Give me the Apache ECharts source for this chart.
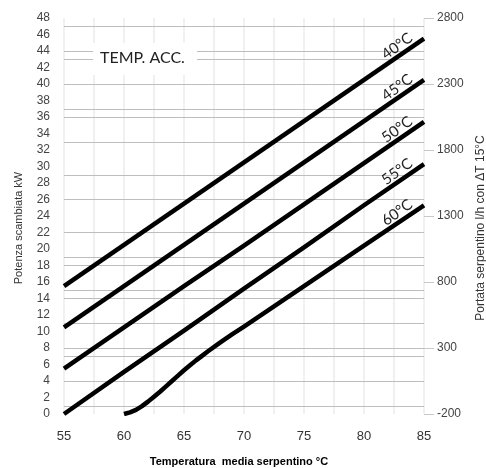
<!DOCTYPE html>
<html>
<head>
<meta charset="utf-8">
<script src="https://cdn.jsdelivr.net/npm/echarts@6/dist/echarts.min.js"></script>
<style>html,body{margin:0;padding:0;background:#fff}#c{width:486px;height:468px}</style>
</head>
<body>
<div id="c"></div>
<script>
// Data
const seriesNames = ['40°C', '45°C', '50°C', '55°C', '60°C'];
const line40 = [[55,15.5],[60,20.5],[65,25.5],[70,30.5],[75,35.5],[80,40.5],[85,45.5]];
const line45 = [[55,10.5],[60,15.5],[65,20.5],[70,25.5],[75,30.5],[80,35.5],[85,40.5]];
const line50 = [[55,5.5],[60,10.5],[65,15.5],[70,20.4],[75,25.4],[80,30.4],[85,35.4]];
const line55 = [[55,0],[60,5.1],[65,10.1],[70,15.2],[75,20.2],[80,25.3],[85,30.3]];
const line60 = [[60,0],[60.5,0.2],[61,0.5],[61.5,0.95],[62,1.5],[62.5,2.1],[63,2.7],[63.5,3.35],[64,4.0],[64.5,4.65],[65,5.3],[65.5,5.9],[66,6.5],[66.5,7.05],[67,7.6],[68,8.65],[69,9.65],[70,10.6],[75,15.5],[80,20.4],[85,25.3]];
const labelX = 83.2;
const leftTicks = [0,2,4,6,8,10,12,14,16,18,20,22,24,26,28,30,32,34,36,38,40,42,44,46,48];
const rightTicks = [-200,300,800,1300,1800,2300,2800];
const xTicks = [55,60,65,70,75,80,85];
const gridValues = [47,44,43,40,37,36,33,29,26,22,19,18,15,14,11,8,7,4,1];

const lines = [line40, line45, line50, line55, line60];

function valueAt(data, x) {
  for (let i = 0; i < data.length - 1; i++) {
    const a = data[i], b = data[i+1];
    if (x >= a[0] && x <= b[0]) return a[1] + (b[1]-a[1]) * (x-a[0]) / (b[0]-a[0]);
  }
  return data[data.length-1][1];
}

const chart = echarts.init(document.getElementById('c'));
const series = lines.map((d, i) => ({
  type: 'line',
  name: seriesNames[i],
  data: d,
  yAxisIndex: 0,
  showSymbol: false,
  smooth: false,
  lineStyle: { color: '#000', width: 4.5, join: 'round' },
  silent: true,
  z: 5,
  markPoint: {
    symbol: 'circle', symbolSize: 0, silent: true,
    data: [{ coord: [labelX, valueAt(d, labelX)] }],
    label: {
      show: true, formatter: seriesNames[i], position: 'inside',
      rotate: 36, offset: [0, -9],
      color: '#222', fontSize: 15, fontFamily: 'Lato'
    }
  }
}));
series.push({
  type: 'line', data: [], yAxisIndex: 0, silent: true, z: 1,
  markLine: {
    silent: true, symbol: 'none', animation: false,
    label: { show: false },
    lineStyle: { color: '#bdbdbd', width: 1, type: 'solid' },
    data: gridValues.map(v => ({ yAxis: v }))
  }
});

chart.setOption({
  animation: false,
  grid: { left: 64, right: 62, top: 18, bottom: 54, containLabel: false, outerBoundsMode: 'none' },
  xAxis: {
    type: 'value', min: 55, max: 85, interval: 5,
    axisLine: { show: false }, axisTick: { show: false },
    axisLabel: { customValues: xTicks, color: '#333', fontSize: 13, fontFamily: 'Liberation Sans', margin: 16 },
    splitLine: { show: true, lineStyle: { color: '#ececec', width: 1.5 } },
    minorTick: { show: false, splitNumber: 2 },
    minorSplitLine: { show: true, lineStyle: { color: '#ececec', width: 1.5 } },
    name: 'Temperatura  media serpentino °C', nameLocation: 'middle', nameGap: 42,
    nameTextStyle: { color: '#000', fontSize: 11, fontWeight: 'bold', fontFamily: 'Liberation Sans', padding: [0, 10, 0, 0] }
  },
  yAxis: [{
    type: 'value', min: 0, max: 48, interval: 2,
    axisLine: { show: false }, axisTick: { show: false },
    axisLabel: { customValues: leftTicks, color: '#444', fontSize: 12, fontFamily: 'Liberation Sans', margin: 14 },
    splitLine: { show: false },
    name: 'Potenza scambiata kW', nameLocation: 'middle', nameGap: 40,
    nameTextStyle: { color: '#333', fontSize: 11, fontFamily: 'Liberation Sans', padding: [0, 24, 0, 0] }
  }, {
    type: 'value', min: -200, max: 2800, position: 'right',
    axisLine: { show: false },
    axisTick: { show: true, customValues: rightTicks, length: 10, lineStyle: { color: '#c8c8c8' } },
    axisLabel: { customValues: rightTicks, formatter: v => String(v), color: '#444', fontSize: 12, fontFamily: 'Liberation Sans', margin: 13 },
    splitLine: { show: false },
    name: 'Portata serpentino l/h con ΔT 15°C', nameLocation: 'middle', nameGap: 40,
    nameTextStyle: { color: '#333', fontSize: 12, fontFamily: 'Liberation Sans', padding: [0, 24, 0, 0] }
  }],
  graphic: [{
    type: 'rect', left: 93, top: 43, z: 10,
    shape: { width: 104, height: 32 }, style: { fill: '#fff' }
  }, {
    type: 'text', left: 100, top: 50, z: 11,
    style: { text: 'TEMP. ACC.', fill: '#222', fontSize: 16, fontFamily: 'Lato' }
  }],
  series: series
});
</script>
</body>
</html>
